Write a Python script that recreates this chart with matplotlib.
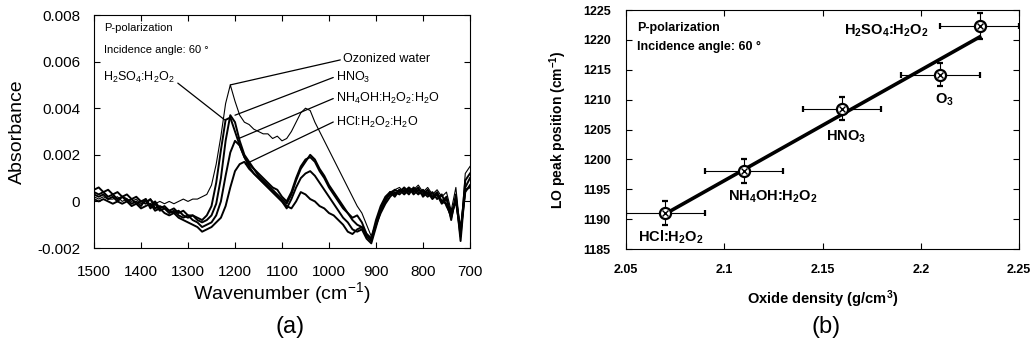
import numpy as np
import matplotlib
matplotlib.use('Agg')
import matplotlib.pyplot as plt

plt.rcParams['font.family'] = 'Liberation Sans'
plt.rcParams['mathtext.fontset'] = 'custom'
plt.rcParams['mathtext.rm'] = 'Liberation Sans'
plt.rcParams['mathtext.it'] = 'Liberation Sans:italic'
plt.rcParams['mathtext.bf'] = 'Liberation Sans:bold'
plt.rcParams['mathtext.default'] = 'regular'

# ---- panel (a): IR spectra, wavenumber grid 1500 -> 700 cm-1
wn = np.arange(1500, 690, -10)

ozone = [0.0002, 0.0001, 0.0002, 0.0001, 0.0001, 0.0002, 0.0000, 0.0001, 0.0000, 0.0001,
         -0.0001, 0.0000, 0.0001, -0.0001, 0.0000, -0.0001, 0.0000, -0.0001, 0.0000, 0.0001,
         0.0000, 0.0001, 0.0001, 0.0002, 0.0003, 0.0007, 0.0016, 0.0028, 0.0042, 0.0050,
         0.0043, 0.0037, 0.0034, 0.0033, 0.0031, 0.0030, 0.0029, 0.0029, 0.0027, 0.0028,
         0.0026, 0.0027, 0.0030, 0.0034, 0.0038, 0.0040, 0.0039, 0.0034, 0.0030, 0.0026,
         0.0022, 0.0018, 0.0014, 0.0010, 0.0006, 0.0002, -0.0002, -0.0005, -0.0010, -0.0015,
         -0.0009, -0.0003, 0.0001, 0.0004, 0.0005, 0.0006, 0.0004, 0.0006, 0.0005, 0.0007,
         0.0004, 0.0006, 0.0003, 0.0005, 0.0002, 0.0004, -0.0004, 0.0006, -0.0014, 0.0012,
         0.0015]

h2so4 = [0.0004, 0.0003, 0.0004, 0.0002, 0.0003, 0.0001, 0.0002, 0.0000, 0.0001, -0.0001,
         0.0000, -0.0001, 0.0001, -0.0003, -0.0002, -0.0003, -0.0004, -0.0003, -0.0005, -0.0004,
         -0.0006, -0.0006, -0.0007, -0.0008, -0.0006, -0.0002, 0.0008, 0.0022, 0.0035, 0.0036,
         0.0030, 0.0024, 0.0019, 0.0016, 0.0014, 0.0012, 0.0010, 0.0008, 0.0006, 0.0005,
         0.0002, 0.0000, 0.0004, 0.0010, 0.0015, 0.0018, 0.0019, 0.0017, 0.0013, 0.0010,
         0.0006, 0.0003, 0.0000, -0.0003, -0.0005, -0.0007, -0.0006, -0.0009, -0.0014, -0.0016,
         -0.0008, -0.0002, 0.0002, 0.0004, 0.0003, 0.0005, 0.0004, 0.0006, 0.0003, 0.0005,
         0.0004, 0.0002, 0.0004, 0.0001, 0.0003, -0.0002, -0.0006, 0.0001, -0.0015, 0.0009,
         0.0012]

hno3 = [0.0005, 0.0006, 0.0004, 0.0005, 0.0003, 0.0004, 0.0002, 0.0003, 0.0001, 0.0002,
        0.0000, 0.0001, -0.0002, 0.0000, -0.0003, -0.0002, -0.0004, -0.0005, -0.0004, -0.0006,
        -0.0007, -0.0006, -0.0008, -0.0009, -0.0008, -0.0006, -0.0001, 0.0010, 0.0026, 0.0037,
        0.0034, 0.0026, 0.0020, 0.0017, 0.0014, 0.0011, 0.0009, 0.0007, 0.0005, 0.0003,
        0.0001, -0.0001, 0.0003, 0.0009, 0.0014, 0.0017, 0.0020, 0.0018, 0.0014, 0.0011,
        0.0007, 0.0004, 0.0001, -0.0002, -0.0005, -0.0008, -0.0010, -0.0011, -0.0015, -0.0017,
        -0.0010, -0.0003, 0.0001, 0.0003, 0.0005, 0.0004, 0.0006, 0.0004, 0.0005, 0.0003,
        0.0005, 0.0003, 0.0002, 0.0004, 0.0000, 0.0002, -0.0008, 0.0003, -0.0017, 0.0006,
        0.0010]

nh4oh = [0.0003, 0.0002, 0.0003, 0.0001, 0.0002, 0.0000, 0.0002, 0.0001, -0.0001, 0.0000,
         -0.0002, 0.0001, -0.0003, -0.0001, -0.0004, -0.0003, -0.0005, -0.0004, -0.0006, -0.0007,
         -0.0006, -0.0008, -0.0009, -0.0011, -0.0010, -0.0009, -0.0006, 0.0000, 0.0011, 0.0021,
         0.0026, 0.0024, 0.0019, 0.0015, 0.0012, 0.0010, 0.0008, 0.0006, 0.0004, 0.0002,
         0.0000, -0.0003, 0.0001, 0.0006, 0.0010, 0.0012, 0.0013, 0.0011, 0.0008, 0.0005,
         0.0002, -0.0001, -0.0004, -0.0007, -0.0009, -0.0012, -0.0013, -0.0012, -0.0016, -0.0018,
         -0.0011, -0.0004, 0.0000, 0.0004, 0.0002, 0.0005, 0.0003, 0.0005, 0.0004, 0.0006,
         0.0002, 0.0004, 0.0001, 0.0003, -0.0001, 0.0001, -0.0005, 0.0000, -0.0013, 0.0004,
         0.0007]

hcl = [0.0001, 0.0000, 0.0001, 0.0000, -0.0001, 0.0000, -0.0001, 0.0000, -0.0002, -0.0001,
       -0.0003, -0.0002, -0.0001, -0.0004, -0.0003, -0.0005, -0.0006, -0.0005, -0.0007, -0.0008,
       -0.0009, -0.0010, -0.0011, -0.0013, -0.0012, -0.0011, -0.0009, -0.0007, -0.0002, 0.0006,
       0.0013, 0.0016, 0.0017, 0.0014, 0.0012, 0.0010, 0.0008, 0.0006, 0.0004, 0.0002,
       0.0000, -0.0002, -0.0003, 0.0000, 0.0004, 0.0003, 0.0001, 0.0000, -0.0002, -0.0003,
       -0.0005, -0.0006, -0.0008, -0.0010, -0.0013, -0.0014, -0.0012, -0.0011, -0.0014, -0.0016,
       -0.0010, -0.0005, -0.0001, 0.0002, 0.0004, 0.0003, 0.0005, 0.0003, 0.0006, 0.0004,
       0.0003, 0.0005, 0.0002, 0.0003, 0.0000, -0.0001, -0.0007, 0.0001, -0.0012, 0.0005,
       0.0006]

# ---- panel (b): LO peak vs oxide density
samples = [r'HCl:H$_\mathbf{2}$O$_\mathbf{2}$', r'NH$_\mathbf{4}$OH:H$_\mathbf{2}$O$_\mathbf{2}$',
           r'HNO$_\mathbf{3}$', r'O$_\mathbf{3}$', r'H$_\mathbf{2}$SO$_\mathbf{4}$:H$_\mathbf{2}$O$_\mathbf{2}$']
density = [2.07, 2.11, 2.16, 2.21, 2.23]
lo_peak = [1191.0, 1198.0, 1208.5, 1214.2, 1222.3]
dens_err = [0.02, 0.02, 0.02, 0.02, 0.02]
lo_err = [2.0, 2.0, 1.9, 2.0, 2.2]

fig = plt.figure(figsize=(10.32, 3.54), dpi=100)

ax1 = fig.add_axes([0.0911, 0.2994, 0.3643, 0.6582])
ax1.plot(wn, ozone, color='k', lw=0.8)
for yy in [h2so4, hno3, nh4oh, hcl]:
    ax1.plot(wn, yy, color='k', lw=1.4)
ax1.set_xlim(1500, 700)
ax1.set_ylim(-0.002, 0.008)
ax1.set_xticks(np.arange(1500, 690, -100))
ax1.set_yticks([-0.002, 0, 0.002, 0.004, 0.006, 0.008])
ax1.set_yticklabels(['-0.002', '0', '0.002', '0.004', '0.006', '0.008'])
ax1.tick_params(direction='in', top=True, right=True, length=4, labelsize=11)
ax1.tick_params(axis='x', pad=12)
ax1.tick_params(axis='y', pad=10)
ax1.set_xlabel(r'Wavenumber (cm$^{-1}$)', fontsize=14, labelpad=1)
ax1.set_ylabel('Absorbance', fontsize=14, labelpad=8)

ax1.text(0.026, 0.93, 'P-polarization', transform=ax1.transAxes, fontsize=8)
ax1.text(0.026, 0.835, u'Incidence angle: 60 \u00b0', transform=ax1.transAxes, fontsize=8)
lp = dict(arrowstyle='-', color='k', lw=0.9, shrinkA=0, shrinkB=0)
ax1.annotate(r'H$_2$SO$_4$:H$_2$O$_2$', xy=(1222, 0.0035), xytext=(1480, 0.0053),
             fontsize=9, ha='left', va='center', arrowprops=dict(lp, relpos=(1, 0.3)))
ax1.annotate('Ozonized water', xy=(1210, 0.0050), xytext=(970, 0.0061),
             fontsize=9, ha='left', va='center', arrowprops=dict(lp, relpos=(0, 0.5)))
ax1.annotate(r'HNO$_3$', xy=(1200, 0.0037), xytext=(985, 0.0053),
             fontsize=9, ha='left', va='center', arrowprops=dict(lp, relpos=(0, 0.6)))
ax1.annotate(r'NH$_4$OH:H$_2$O$_2$:H$_2$O', xy=(1192, 0.0027), xytext=(985, 0.0044),
             fontsize=9, ha='left', va='center', arrowprops=dict(lp, relpos=(0, 0.6)))
ax1.annotate(r'HCl:H$_2$O$_2$:H$_2$O', xy=(1178, 0.0016), xytext=(985, 0.0034),
             fontsize=9, ha='left', va='center', arrowprops=dict(lp, relpos=(0, 0.6)))

ax2 = fig.add_axes([0.6066, 0.2966, 0.3808, 0.6751])
cc = np.polyfit(density, lo_peak, 1)
ax2.plot([density[0], density[-1]], np.polyval(cc, [density[0], density[-1]]), color='k', lw=2.6)
ax2.errorbar(density, lo_peak, xerr=dens_err, yerr=lo_err, fmt='o', ms=8, mfc='white',
             mec='k', mew=1.6, ecolor='k', elinewidth=0.8, capsize=2, zorder=3)
ax2.plot(density, lo_peak, 'x', ms=5, color='k', mew=1.0, zorder=4)
ax2.set_xlim(2.05, 2.25)
ax2.set_ylim(1185, 1225)
ax2.set_xticks([2.05, 2.1, 2.15, 2.2, 2.25])
ax2.set_xticklabels(['2.05', '2.1', '2.15', '2.2', '2.25'])
ax2.set_yticks(np.arange(1185, 1226, 5))
ax2.tick_params(direction='in', top=True, right=True, length=4, labelsize=9)
ax2.tick_params(axis='x', pad=11)
ax2.tick_params(axis='y', pad=11)
for lab in ax2.get_xticklabels() + ax2.get_yticklabels():
    lab.set_fontweight('bold')
ax2.set_xlabel(r'Oxide density (g/cm$^\mathbf{3}$)', fontsize=10.5, fontweight='bold', labelpad=9)
ax2.set_ylabel(r'LO peak position (cm$^\mathbf{-1}$)', fontsize=10, fontweight='bold', labelpad=10)
ax2.text(0.028, 0.925, 'P-polarization', transform=ax2.transAxes, fontsize=9,
         fontweight='bold', va='center')
ax2.text(0.028, 0.845, u'Incidence angle: 60 \u00b0', transform=ax2.transAxes, fontsize=9,
         fontweight='bold', va='center')
lab_xy = [(2.056, 1187.0), (2.102, 1193.8), (2.152, 1203.8), (2.207, 1210.0), (2.161, 1221.5)]
for name, (tx, ty) in zip(samples, lab_xy):
    ax2.text(tx, ty, name, fontsize=10.5, fontweight='bold', ha='left', va='center')

fig.text(0.281, 0.075, '(a)', fontsize=17, ha='center', va='center')
fig.text(0.800, 0.075, '(b)', fontsize=17, ha='center', va='center')

fig.savefig('out.png', dpi=100)
